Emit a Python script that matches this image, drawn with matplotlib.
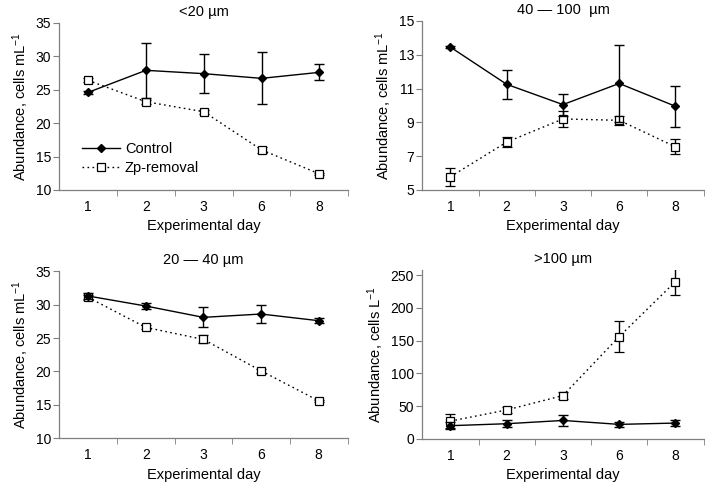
import matplotlib
matplotlib.use("Agg")
import matplotlib.pyplot as plt
from matplotlib.ticker import FixedLocator
from matplotlib.lines import Line2D

plt.rcParams['font.family'] = ['Liberation Sans', 'DejaVu Sans']
plt.rcParams['mathtext.fontset'] = 'custom'
plt.rcParams['mathtext.rm'] = 'Liberation Sans'
plt.rcParams['mathtext.it'] = 'Liberation Sans:italic'

days = ['1', '2', '3', '6', '8']

# <20 um
small_ctrl = [24.6, 27.9, 27.4, 26.7, 27.6]
small_ctrl_err = [0.2, 4.1, 2.9, 3.9, 1.2]
small_zp = [26.4, 23.2, 21.7, 16.0, 12.4]
small_zp_err = [0.3, 0.3, 0.3, 0.4, 0.2]

# 40-100 um
large_ctrl = [13.45, 11.25, 10.05, 11.3, 9.95]
large_ctrl_err = [0.05, 0.85, 0.65, 2.3, 1.22]
large_zp = [5.78, 7.83, 9.2, 9.12, 7.55]
large_zp_err = [0.53, 0.3, 0.5, 0.25, 0.45]

# 20-40 um
mid_ctrl = [31.3, 29.8, 28.1, 28.6, 27.6]
mid_ctrl_err = [0.4, 0.5, 1.5, 1.4, 0.4]
mid_zp = [31.1, 26.6, 24.8, 20.1, 15.6]
mid_zp_err = [0.4, 0.3, 0.6, 0.3, 0.2]

# >100 um
xl_ctrl = [20, 23, 28, 22, 24]
xl_ctrl_err = [5, 5, 8, 4, 4]
xl_zp = [27, 44, 66, 156, 240]
xl_zp_err = [11, 4, 5, 24, 20]

panels = [
    ("<20 µm", small_ctrl, small_ctrl_err, small_zp, small_zp_err,
     (10, 35), [10, 15, 20, 25, 30, 35], r"Abundance, cells $\mathrm{mL}^{-1}$",
     [0.084, 0.610, 0.410, 0.343]),
    ("40 — 100  µm", large_ctrl, large_ctrl_err, large_zp, large_zp_err,
     (5, 15), [5, 7, 9, 11, 13, 15], r"Abundance, cells $\mathrm{mL}^{-1}$",
     [0.599, 0.610, 0.399, 0.347]),
    ("20 — 40 µm", mid_ctrl, mid_ctrl_err, mid_zp, mid_zp_err,
     (10, 35), [10, 15, 20, 25, 30, 35], r"Abundance, cells $\mathrm{mL}^{-1}$",
     [0.084, 0.100, 0.409, 0.343]),
    (">100 µm", xl_ctrl, xl_ctrl_err, xl_zp, xl_zp_err,
     (0, 258), [0, 50, 100, 150, 200, 250], r"Abundance, cells $\mathrm{L}^{-1}$",
     [0.599, 0.099, 0.399, 0.347]),
]

fig = plt.figure(figsize=(7.05, 4.87), dpi=100)
x = list(range(1, len(days) + 1))
spine_col = '#7f7f7f'
dots = (0, (1.2, 2.4))
sq_size = 5.2
dm_size = 4.3

for i, (title, c, ce, z, ze, ylim, yticks, ylabel, rect) in enumerate(panels):
    ax = fig.add_axes(rect)
    ax.errorbar(x, z, yerr=ze, color='black', linestyle=dots, linewidth=1,
                marker='s', markersize=sq_size, markerfacecolor='white', markeredgecolor='black',
                markeredgewidth=0.9, ecolor='black', elinewidth=1, capsize=3.5, zorder=3)
    ax.errorbar(x, c, yerr=ce, color='black', linestyle='-', linewidth=1,
                marker='D', markersize=dm_size, markerfacecolor='black', markeredgecolor='black',
                ecolor='black', elinewidth=1, capsize=3.5, zorder=4)

    ax.set_xlim(0.5, len(days) + 0.5)
    ax.set_ylim(*ylim)
    ax.set_yticks(yticks)
    ax.set_xticks(x)
    ax.set_xticklabels(days)
    ax.xaxis.set_minor_locator(FixedLocator([k + 0.5 for k in x]))
    ax.tick_params(axis='x', which='major', length=0, pad=7, labelsize=10)
    ax.tick_params(axis='x', which='minor', length=4, direction='out', color=spine_col)
    ax.tick_params(axis='y', length=4, direction='out', color=spine_col, labelsize=10, pad=2)

    for s in ['top', 'right']:
        ax.spines[s].set_visible(False)
    for s in ['left', 'bottom']:
        ax.spines[s].set_color(spine_col)
        ax.spines[s].set_linewidth(0.9)

    ax.set_title(title, fontsize=10.5, pad=5)
    ax.set_xlabel('Experimental day', fontsize=10.5, labelpad=4)
    ax.set_ylabel(ylabel, fontsize=10.5, labelpad=3)

    if i == 0:
        handles = [
            Line2D([], [], color='black', linewidth=1, marker='D', markersize=dm_size),
            Line2D([], [], color='black', linewidth=1, linestyle=dots, marker='s',
                   markersize=sq_size, markerfacecolor='white', markeredgewidth=0.9),
        ]
        ax.legend(handles, ['Control', 'Zp-removal'], loc='center left',
                  bbox_to_anchor=(0.035, 0.19), frameon=False, fontsize=10.5,
                  handlelength=2.6, handletextpad=0.3, labelspacing=0.35)

fig.savefig('out.png', dpi=100)
